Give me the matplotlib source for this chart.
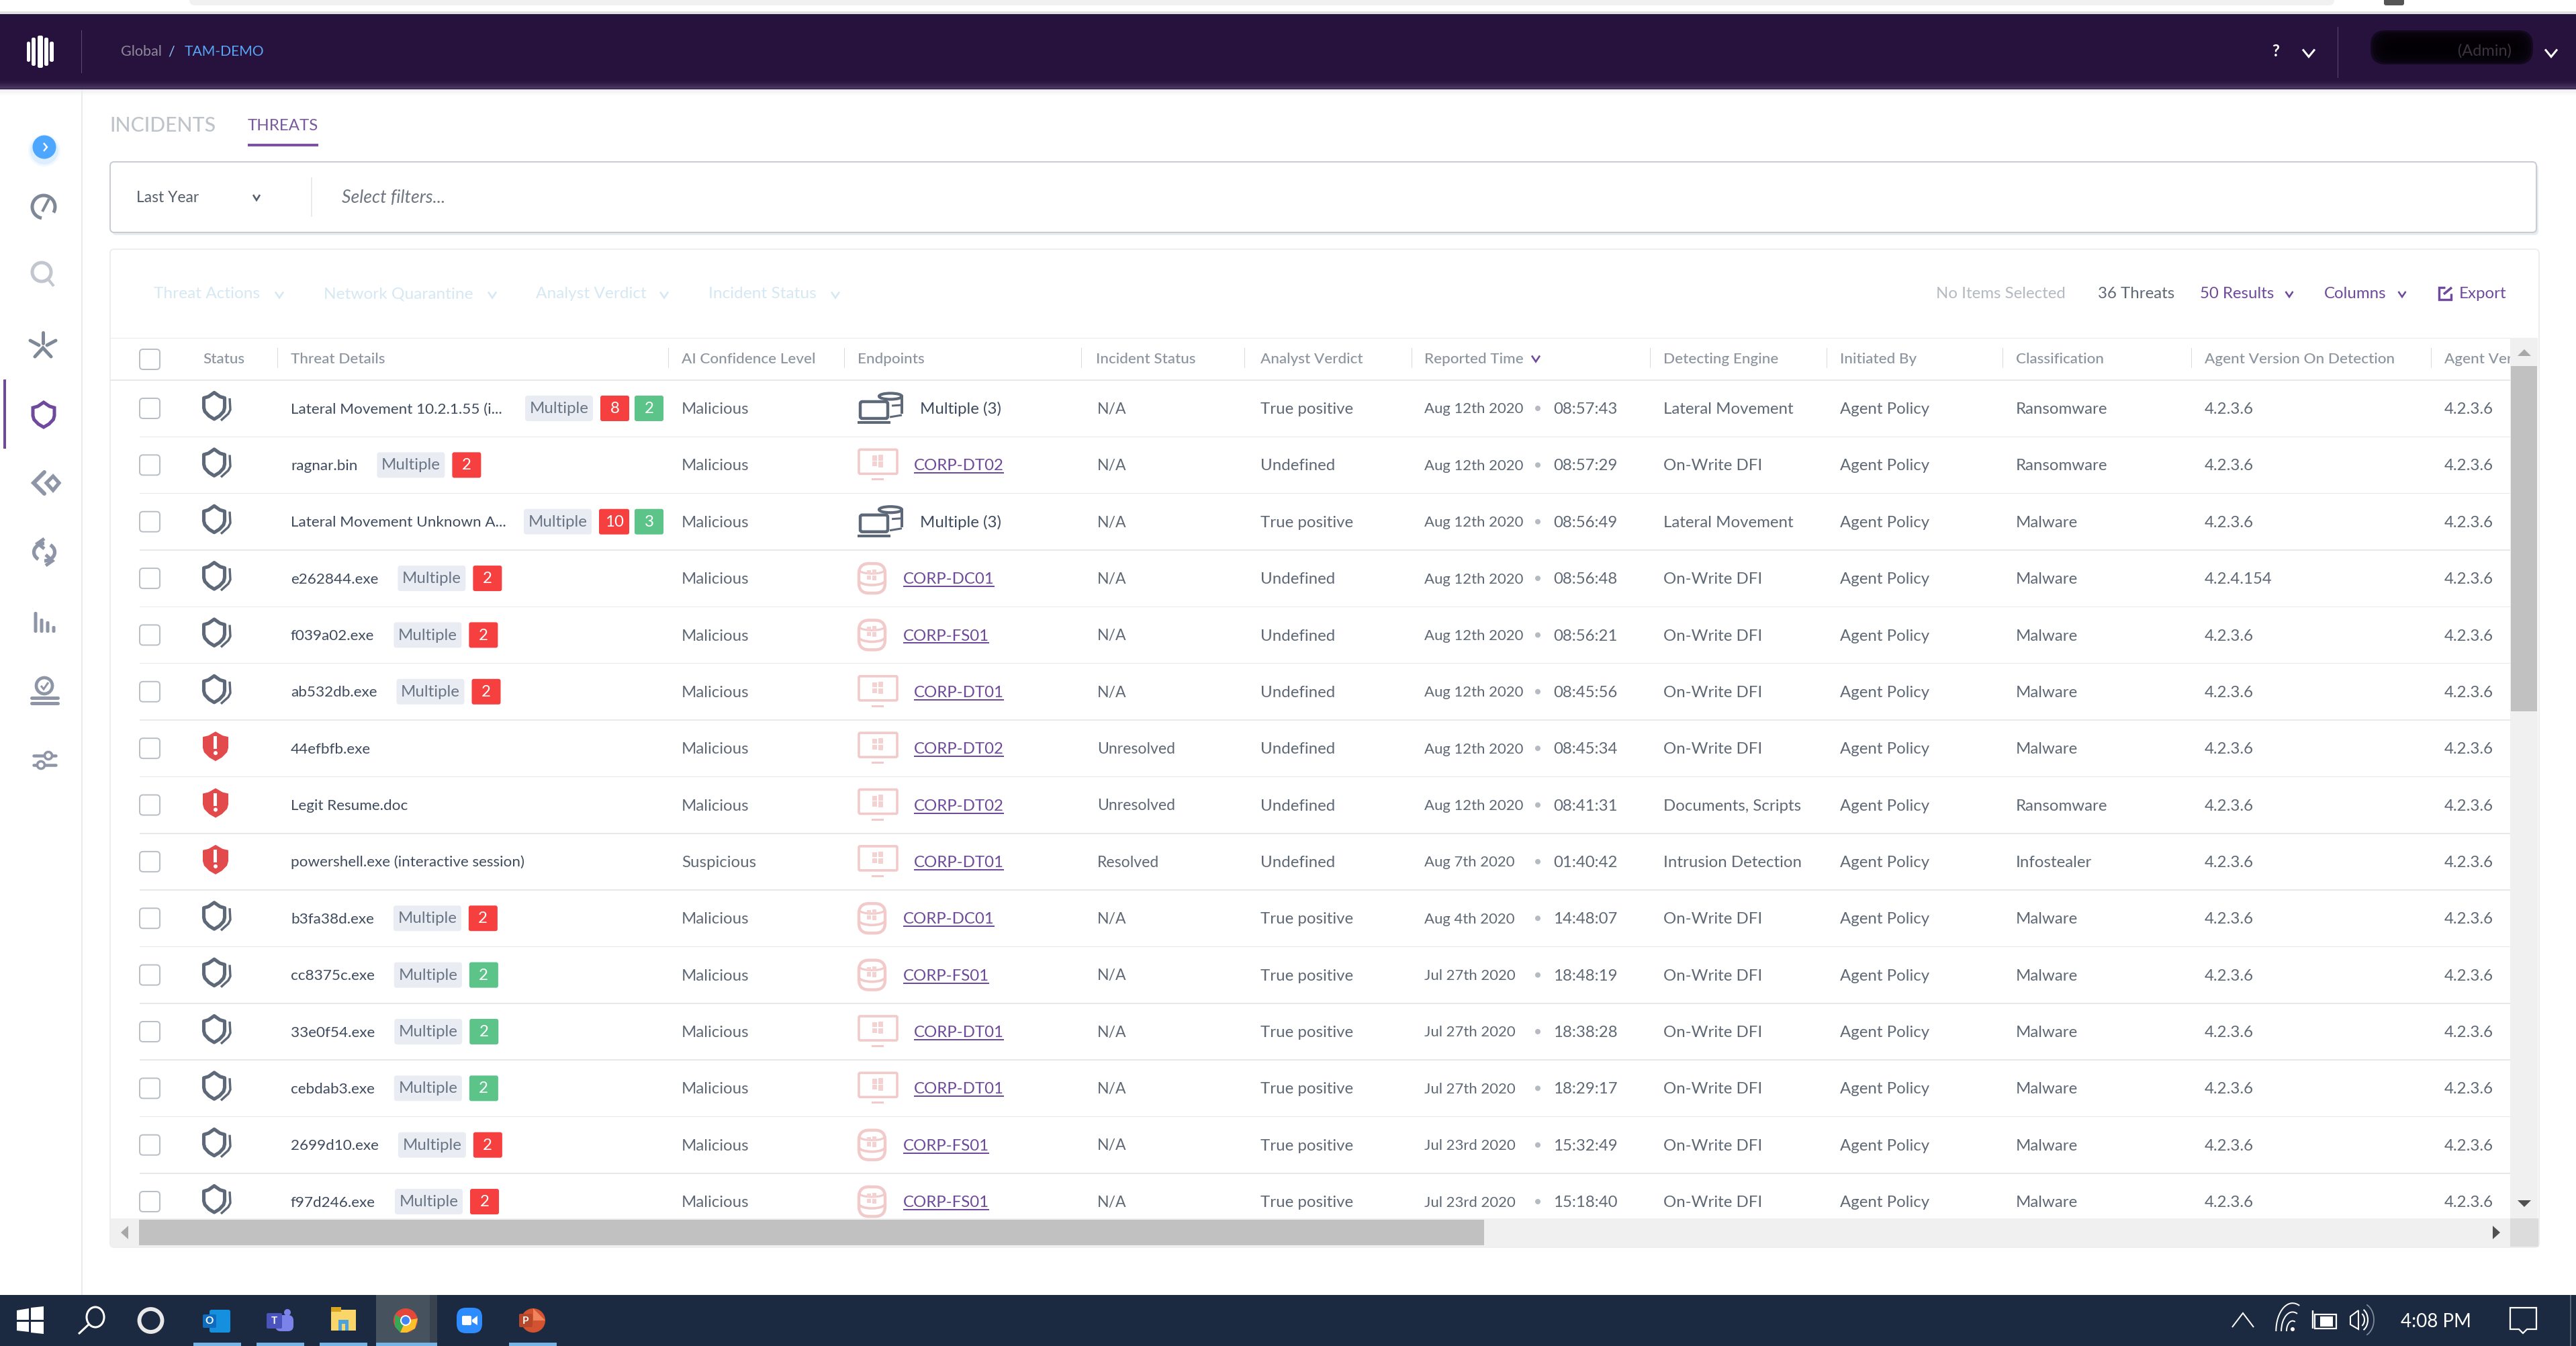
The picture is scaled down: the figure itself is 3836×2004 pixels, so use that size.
import matplotlib
matplotlib.use("Agg")
import matplotlib.pyplot as plt
import numpy as np
from matplotlib.patches import Rectangle, FancyBboxPatch, Circle, Ellipse, Polygon, Arc

plt.rcParams['font.family'] = ['Lato', 'DejaVu Sans']

# ---------- data ----------
threat_names = ["Lateral Movement 10.2.1.55 (i...", "ragnar.bin", "Lateral Movement Unknown A...", "e262844.exe",
                "f039a02.exe", "ab532db.exe", "44efbfb.exe", "Legit Resume.doc",
                "powershell.exe (interactive session)", "b3fa38d.exe", "cc8375c.exe", "33e0f54.exe",
                "cebdab3.exe", "2699d10.exe", "f97d246.exe"]
red_counts = [8, 2, 10, 2, 2, 2, 0, 0, 0, 2, 0, 0, 0, 2, 2]
green_counts = [2, 0, 3, 0, 0, 0, 0, 0, 0, 0, 2, 2, 2, 0, 0]
status_alert = [0, 0, 0, 0, 0, 0, 1, 1, 1, 0, 0, 0, 0, 0, 0]
confidence = ["Malicious"] * 8 + ["Suspicious"] + ["Malicious"] * 6
endpoints = ["Multiple (3)", "CORP-DT02", "Multiple (3)", "CORP-DC01", "CORP-FS01", "CORP-DT01", "CORP-DT02",
             "CORP-DT02", "CORP-DT01", "CORP-DC01", "CORP-FS01", "CORP-DT01", "CORP-DT01", "CORP-FS01", "CORP-FS01"]
incident_status = ["N/A"] * 6 + ["Unresolved", "Unresolved", "Resolved"] + ["N/A"] * 6
verdicts = ["True positive", "Undefined", "True positive", "Undefined", "Undefined", "Undefined", "Undefined",
            "Undefined", "Undefined", "True positive", "True positive", "True positive", "True positive",
            "True positive", "True positive"]
dates = ["Aug 12th 2020"] * 8 + ["Aug 7th 2020", "Aug 4th 2020", "Jul 27th 2020", "Jul 27th 2020", "Jul 27th 2020",
                                 "Jul 23rd 2020", "Jul 23rd 2020"]
times = ["08:57:43", "08:57:29", "08:56:49", "08:56:48", "08:56:21", "08:45:56", "08:45:34", "08:41:31", "01:40:42",
         "14:48:07", "18:48:19", "18:38:28", "18:29:17", "15:32:49", "15:18:40"]
engines = ["Lateral Movement", "On-Write DFI", "Lateral Movement", "On-Write DFI", "On-Write DFI", "On-Write DFI",
           "On-Write DFI", "Documents, Scripts", "Intrusion Detection", "On-Write DFI", "On-Write DFI",
           "On-Write DFI", "On-Write DFI", "On-Write DFI", "On-Write DFI"]
initiated = ["Agent Policy"] * 15
classes = ["Ransomware", "Ransomware", "Malware", "Malware", "Malware", "Malware", "Malware", "Ransomware",
           "Infostealer", "Malware", "Malware", "Malware", "Malware", "Malware", "Malware"]
version_detect = ["4.2.3.6", "4.2.3.6", "4.2.3.6", "4.2.4.154"] + ["4.2.3.6"] * 11
version_agent = ["4.2.3.6"] * 15
headers = ["Status", "Threat Details", "AI Confidence Level", "Endpoints", "Incident Status", "Analyst Verdict",
           "Reported Time", "Detecting Engine", "Initiated By", "Classification", "Agent Version On Detection",
           "Agent Ver"]
toolbar_left = ["Threat Actions", "Network Quarantine", "Analyst Verdict", "Incident Status"]

# ---------- canvas ----------
W, H = 3837, 2004
fig = plt.figure(figsize=(W / 100, H / 100), dpi=100, facecolor='white')
ax = fig.add_axes([0, 0, 1, 1])
ax.set_xlim(0, W)
ax.set_ylim(H, 0)
ax.axis('off')
rend = fig.canvas.get_renderer()

FS = 17.3
FS_NAME = 16.2
FS_DATE = 15.9
TXT = '#5f6976'
DARK = '#3f4b5e'
HEAD = '#8b949f'
PURPLE = '#6f4a9c'
SEP = '#e6e8eb'


def rect(x0, y0, x1, y1, c, z=1, **k):
    ax.add_patch(Rectangle((x0, y0), x1 - x0, y1 - y0, fc=c, ec='none', zorder=z, **k))


def rbox(x0, y0, x1, y1, fc, ec='none', r=4, lw=0, z=2):
    ax.add_patch(FancyBboxPatch((x0, y0), x1 - x0, y1 - y0, boxstyle=f"round,pad=0,rounding_size={r}",
                                fc=fc, ec=ec, lw=lw, zorder=z))


def txt(x, cy, s, c=TXT, fs=FS, ha='left', z=5, **k):
    return ax.text(x, cy + fs * 0.47, s, color=c, fontsize=fs, ha=ha, va='baseline', zorder=z, **k)


def line(xs, ys, c, px=2, z=3, **k):
    ax.plot(xs, ys, color=c, lw=px * 0.72, zorder=z, solid_capstyle=k.pop('cap', 'butt'),
            solid_joinstyle=k.pop('join', 'miter'), **k)


def chev(x, y, c, w=7, h=5, px=3):
    line([x - w, x, x + w], [y - h, y + h, y - h], c, px, z=6)


def winlogo(cx, cy, s, c, z=4):
    g = s * 0.1
    rect(cx - s, cy - s, cx - g, cy - g, c, z)
    rect(cx + g, cy - s * 1.15, cx + s, cy - g, c, z)
    rect(cx - s, cy + g, cx - g, cy + s, c, z)
    rect(cx + g, cy + g, cx + s, cy + s * 1.15, c, z)


def shield_pts(cx, cy, w, t, b):
    return [(cx, cy - t), (cx + w * 0.55, cy - t + 6), (cx + w, cy - t + 8), (cx + w, cy + b * 0.1),
            (cx + w * 0.9, cy + b * 0.4), (cx + w * 0.5, cy + b * 0.75), (cx, cy + b), (cx - w * 0.5, cy + b * 0.75),
            (cx - w * 0.9, cy + b * 0.4), (cx - w, cy + b * 0.1), (cx - w, cy - t + 8), (cx - w * 0.55, cy - t + 6)]


def gray_shield(cy):
    ax.add_patch(Polygon(shield_pts(319, cy - 3, 15.5, 20.5, 19), closed=True, fc='none', ec='#5d6878', lw=3.7, zorder=4,
                         joinstyle='round'))
    line([342, 343, 340, 329], [cy - 15, cy + 2, cy + 8, cy + 18], '#5d6878', 3.4, z=4)


def red_shield(cy):
    ax.add_patch(Polygon(shield_pts(321, cy - 3, 19, 22, 22), closed=True, fc='#e24a4b', ec='none', zorder=4))
    rect(318.5, cy - 18, 323.5, cy + 1, 'white', 5)
    ax.add_patch(Circle((321, cy + 7), 3, fc='white', ec='none', zorder=5))


def laptop(cy):
    c = '#5d6878'
    ax.add_patch(Ellipse((1326, cy - 18), 34, 9, fc='none', ec=c, lw=3, zorder=4))
    line([1343, 1343], [cy - 18, cy + 8], c, 4, z=4)
    line([1343, 1325], [cy + 10, cy + 13], c, 3, z=4)
    line([1343, 1328], [cy - 5, cy - 4], c, 3, z=4)
    rbox(1281, cy - 10, 1322, cy + 15, 'white', c, r=3, lw=3.2, z=4.5)
    rect(1277, cy + 19, 1326, cy + 23, c, 5)


def desktop(cy):
    c = '#f2caca'
    rbox(1279, cy - 23, 1336, cy + 13, 'white', c, r=2, lw=2.6, z=4)
    rect(1298, cy + 20, 1316, cy + 23, c, 4)
    winlogo(1307, cy - 6, 8, '#f4d2d2', 5)


def dbicon(cy):
    c = '#f2caca'
    rbox(1279, cy - 22, 1318, cy + 22, 'white', c, r=15, lw=3.2, z=4)
    ax.add_patch(Arc((1298.5, cy + 3), 39, 14, theta1=0, theta2=180, ec=c, lw=2.6, zorder=5))
    ax.add_patch(Arc((1298.5, cy - 13), 39, 12, theta1=0, theta2=180, ec=c, lw=2.2, zorder=5))
    winlogo(1298, cy - 5, 7, '#f4d2d2', 5.5)


# ---------- top strip and header bar ----------
rbox(282, -20, 3476, 8, '#f1f1f1', r=8, z=1)
rbox(3550, -10, 3580, 8, '#555555', r=3, z=1)
rect(0, 17, W, 21, '#e2e2e2', 1)
rect(0, 21, W, 133, '#27123d', 2)
grad = ['#2a1540', '#2e1944', '#331f4a', '#3a2651', '#422f59', '#4a3860']
for i, col in enumerate(grad):
    rect(0, 120 + i * 2, W, 122 + i * 2, col, 2.5)
for j in range(3):
    rect(0, 133 + j * 3, W, 136 + j * 3, ['#efeff1', '#f6f6f7', '#fbfbfb'][j], 1)

for x0, x1, h in [(40, 45, 15), (47, 53, 21), (56, 64, 24), (66, 72, 21), (74, 80, 15)]:
    rbox(x0, 77 - h, x1, 77 + h, 'white', r=2.4, z=3)
rect(121, 45, 122, 109, '#5b4b6e', 3)
txt(180, 76, "Global", c='#8f8a99', fs=15.5)
txt(250, 76, "/", c='#8fc0f0', fs=15.5)
txt(275, 76, "TAM-DEMO", c='#58a6f5', fs=15.2)
txt(3389, 76, "?", c='white', fs=17, ha='center', weight='bold')
chev(3438, 79, 'white', w=9, h=5.5, px=3)
rect(3481, 40, 3482, 116, '#5b4b6e', 3)
for g, a in [(26, .10), (22, .14), (18, .18), (14, .24), (10, .3), (6, .4), (3, .5)]:
    rbox(3527 + g, 43 + g * .7, 3775 - g, 98 - g * .7, '#000000', r=22, z=3)
    ax.patches[-1].set_alpha(a)
txt(3660, 75, "(Admin)", c='#3a3440', fs=17)
chev(3799, 79, 'white', w=9, h=5.5, px=3)

# ---------- sidebar ----------
rect(121, 133, 123, 1928, '#eaebee', 1)
for r_, a in [(24, .07), (21, .12)]:
    ax.add_patch(Circle((66, 224), r_, fc='#4da6ff', ec='none', alpha=a, zorder=2))
ax.add_patch(Circle((66, 219), 17.5, fc='#4da6ff', ec='none', zorder=3))
line([65, 70, 65], [213, 219, 225], 'white', 2.4, z=4)
ic = '#8d95a6'
ax.add_patch(Arc((65, 308), 34, 34, theta1=100, theta2=30, ec='#7f8897', lw=3.6, zorder=3))
line([63, 73], [315, 296], '#7f8897', 4, z=3)
ax.add_patch(Circle((62, 405), 14, fc='none', ec='#c1c6cf', lw=3.6, zorder=3))
line([72, 80], [416, 426], '#c1c6cf', 4, z=3)
line([64, 64], [495, 511], '#7f8897', 5, z=3, cap='round')
line([45, 58], [507, 514], '#7f8897', 5, z=3, cap='round')
line([83, 70], [507, 514], '#7f8897', 5, z=3, cap='round')
line([52, 64, 76], [531, 518, 531], '#7f8897', 5, z=3, cap='round')
ax.add_patch(Polygon(shield_pts(65, 617, 16, 18, 19), closed=True, fc='none', ec=PURPLE, lw=3.6, zorder=3))
rect(5, 565, 9, 668, '#6f4a9c', 3)
line([66, 50, 66], [703, 719, 735], ic, 6, z=3, cap='round')
ax.add_patch(Polygon([(79, 709), (88, 719), (79, 730), (69, 719)], closed=True, fc='none', ec=ic, lw=3.8, zorder=3))
ax.add_patch(Arc((66, 822), 31, 26, theta1=310, theta2=90, ec=ic, lw=3.8, zorder=3))
ax.add_patch(Arc((66, 822), 31, 26, theta1=130, theta2=270, ec=ic, lw=3.8, zorder=3))
line([66, 56, 66], [802, 809, 817], ic, 5, z=3)
line([68, 78, 68], [826, 835, 842], ic, 5, z=3)
for x_, top in [(53, 911), (62, 921), (71, 925), (80, 932)]:
    rbox(x_ - 2.5, top, x_ + 2.5, 942, ic, r=2, z=3)
ax.add_patch(Circle((66, 1021), 12, fc='none', ec=ic, lw=3.4, zorder=3))
line([61, 65, 72], [1021, 1026, 1016], ic, 3, z=3)
for y_ in (1039, 1047):
    line([47, 86], [y_, y_], ic, 5, z=3, cap='round')
for y_, xc in ((1125, 72), (1139, 61)):
    line([50, 83], [y_, y_], ic, 4.5, z=3, cap='round')
    ax.add_patch(Circle((xc, y_), 5.5, fc='white', ec=ic, lw=2.6, zorder=4))

# ---------- tabs and filter box ----------
txt(163, 186, "INCIDENTS", c='#bfc4cb', fs=21.8, weight='medium')
txt(369, 186, "THREATS", c='#7a5aa0', fs=17.3)
rect(369, 214, 474, 218, '#7b52a3', 3)
rbox(167, 245, 3780, 350, '#e9ecef', r=6, z=1)
rbox(164, 241, 3777, 346, 'white', '#c8ccd2', r=6, lw=1.4, z=2)
txt(203, 293, "Last Year", c='#56606c', fs=16.5)
chev(382, 294, '#56606c', w=5, h=4, px=2.6)
rect(463, 264, 465, 323, '#e8eaed', 3)
txt(509, 293, "Select filters...", c='#6e7681', style='italic', fs=19.2)

# ---------- table card ----------
rbox(164, 371, 3781, 1857, 'white', '#eceef0', r=6, lw=1.4, z=1)
for label, x_, cx_ in zip(toolbar_left, (229, 482, 798, 1055), (416, 733, 989, 1244)):
    txt(x_, 436, label, c='#d6e8f3', fs=17.6)
    chev(cx_, 439, '#d6e8f3', w=6, h=4.5, px=2.6)
txt(2883, 436, "No Items Selected", c='#b4bac2')
txt(3124, 436, "36 Threats", c='#5f6976')
txt(3276, 436, "50 Results", c=PURPLE)
chev(3409, 438, PURPLE, w=5.5, h=4, px=2.6)
txt(3461, 436, "Columns", c=PURPLE)
chev(3577, 438, PURPLE, w=5.5, h=4, px=2.6)
line([3641, 3632, 3632, 3650, 3650], [428, 428, 446, 446, 437], PURPLE, 3.4, z=5)
line([3639, 3651], [438, 428], PURPLE, 3.6, z=5)
txt(3662, 436, "Export", c=PURPLE)

# table header
rect(164, 503, 3738, 504, '#e6e8eb', 2)
rect(164, 565, 3738, 567, '#e6e8eb', 2)
rbox(208, 520, 238, 550, 'white', '#b9bec5', r=5, lw=1.4, z=3)
head_x = [302, 433, 1015, 1277, 1632, 1877, 2121, 2477, 2740, 3002, 3283, 3640]
sep_x = [413, 995, 1257, 1610, 1853, 2102, 2457, 2720, 2982, 3263, 3620]
for x_, s in zip(head_x, headers):
    txt(x_, 533, s, c=HEAD, weight='medium', fs=FS_NAME)
for x_ in sep_x:
    rect(x_, 518, x_ + 1.5, 548, '#d9dcdf', 3)
chev(2287, 534, PURPLE, w=6, h=4.5, px=2.6)

# ---------- rows ----------
ROW0, ROWH = 608, 84.36
CHIP_W, CHIP_GAP, BADGE_GAP, RIGHT_EDGE = 101, 11, 8, 988
for i, name in enumerate(threat_names):
    cy = ROW0 + i * ROWH
    if i < len(threat_names) - 1:
        rect(208, cy + 41.5, 3738, cy + 43, SEP, 2)
    rbox(208, cy - 15, 238, cy + 15, 'white', '#b9bec5', r=5, lw=1.4, z=3)
    if status_alert[i]:
        red_shield(cy)
    else:
        gray_shield(cy)
    t = txt(433, cy, name, c=DARK, fs=FS_NAME)
    if red_counts[i] or green_counts[i]:
        wr = 45 if red_counts[i] > 9 else 43
        if name.endswith('...'):
            x = RIGHT_EDGE - (CHIP_W + CHIP_GAP + wr + BADGE_GAP + 43)
        else:
            x = t.get_window_extent(rend).x1 + 29
        rbox(x, cy - 19, x + CHIP_W, cy + 19, '#e9edf3', r=4, z=3)
        txt(x + CHIP_W / 2, cy - 1, "Multiple", c='#6a7585', ha='center')
        x += CHIP_W + CHIP_GAP
        for count, col in ((red_counts[i], '#f5403f'), (green_counts[i], '#5cc389')):
            if count:
                wd = 45 if count > 9 else 43
                rbox(x, cy - 19, x + wd, cy + 19, col, r=3, z=3)
                txt(x + wd / 2, cy - 1, str(count), c='white', ha='center')
                x += wd + BADGE_GAP
    txt(1015, cy, confidence[i])
    ep = endpoints[i]
    if ep.startswith('Multiple'):
        laptop(cy)
        txt(1370, cy, ep, c=DARK)
    else:
        is_desk = '-DT' in ep
        (desktop if is_desk else dbicon)(cy)
        x0 = 1361 if is_desk else 1345
        t = txt(x0, cy, ep, c=PURPLE)
        line([x0, t.get_window_extent(rend).x1], [cy + 12, cy + 12], PURPLE, 2, z=5)
    txt(1634, cy, incident_status[i], fs=16.6)
    txt(1877, cy, verdicts[i])
    txt(2121, cy, dates[i], fs=FS_DATE)
    ax.add_patch(Circle((2290, cy), 4, fc='#b5bac3', ec='none', zorder=4))
    txt(2313, cy, times[i])
    txt(2477, cy, engines[i])
    txt(2740, cy, initiated[i])
    txt(3002, cy, classes[i])
    txt(3283, cy, version_detect[i])
    txt(3640, cy, version_agent[i])

# ---------- scrollbars ----------
rect(3738, 503, 3779, 1814, '#f0f0f0', 6)
rect(3739, 545, 3778, 1059, '#c1c1c1', 6.5)
ax.add_patch(Polygon([(3749, 530), (3759, 520), (3769, 530)], closed=True, fc='#a8a8a8', ec='none', zorder=7))
ax.add_patch(Polygon([(3749, 1787), (3769, 1787), (3759, 1797)], closed=True, fc='#505050', ec='none', zorder=7))
rect(165, 1814, 3738, 1856, '#f0f0f0', 6)
rect(207, 1816, 2210, 1854, '#c1c1c1', 6.5)
rect(3738, 1814, 3780, 1856, '#dcdcdc', 6)
ax.add_patch(Polygon([(191, 1825), (191, 1845), (180, 1835)], closed=True, fc='#a8a8a8', ec='none', zorder=7))
ax.add_patch(Polygon([(3712, 1825), (3712, 1845), (3723, 1835)], closed=True, fc='#505050', ec='none', zorder=7))

# ---------- taskbar ----------
rect(0, 1928, W, H, '#1b2a41', 8)
rect(560, 1928, 640, H, '#46535f', 8.2)
rect(640, 1928, 651, H, '#39434f', 8.2)
for x0, x1 in [(288, 359), (382, 453), (476, 547), (560, 651), (758, 829)]:
    rect(x0, 1999, x1, H, '#74b4e6', 8.3)
ax.add_patch(Polygon([(25, 1951), (43, 1948), (43, 1965), (25, 1965)], closed=True, fc='white', ec='none', zorder=9))
ax.add_patch(Polygon([(46, 1947), (65, 1945), (65, 1965), (46, 1965)], closed=True, fc='white', ec='none', zorder=9))
ax.add_patch(Polygon([(25, 1968), (43, 1968), (43, 1983), (25, 1981)], closed=True, fc='white', ec='none', zorder=9))
ax.add_patch(Polygon([(46, 1968), (65, 1968), (65, 1986), (46, 1984)], closed=True, fc='white', ec='none', zorder=9))
ax.add_patch(Ellipse((142, 1961), 26, 30, fc='none', ec='white', lw=2.2, zorder=9))
line([132, 117], [1972, 1986], 'white', 3, z=9)
ax.add_patch(Circle((224.5, 1966), 17, fc='none', ec='#e8e8e8', lw=4.2, zorder=9))
rbox(312, 1950, 343, 1984, '#1490df', r=3, z=9)
rbox(302, 1957, 322, 1977, '#0f6cbd', r=2, z=9.1)
txt(312, 1966, "O", c='white', fs=11, ha='center', z=9.2, weight='bold')
ax.add_patch(Circle((428, 1954), 5, fc='#7b83eb', ec='none', zorder=9))
rbox(410, 1958, 437, 1982, '#7b83eb', r=8, z=9)
rbox(397, 1955, 420, 1978, '#4b53bc', r=2, z=9.1)
txt(408, 1966, "T", c='white', fs=11, ha='center', z=9.2, weight='bold')
rect(493, 1950, 530, 1981, '#f9d56a', 9)
rect(493, 1946, 508, 1953, '#d9a520', 9.1)
rect(504, 1965, 519, 1981, '#4aa3df', 9.2)
rect(509, 1971, 514, 1981, '#f9d56a', 9.3)
ax.add_patch(Circle((604, 1966), 18, fc='#e5483b', ec='none', zorder=9))
ax.add_patch(Polygon([(588, 1957), (604, 1966), (596, 1984), (588, 1975)], closed=True, fc='#3aa757', ec='none', zorder=9.1))
ax.add_patch(Polygon([(604, 1966), (622, 1963), (618, 1978), (606, 1984), (596, 1984)], closed=True, fc='#fbc02d', ec='none', zorder=9.1))
ax.add_patch(Circle((604, 1966), 8, fc='white', ec='none', zorder=9.2))
ax.add_patch(Circle((604, 1966), 6, fc='#4285f4', ec='none', zorder=9.3))
rbox(680, 1947, 718, 1985, '#2d8cff', r=14, z=9)
rbox(688, 1959, 702, 1973, 'white', r=2, z=9.1)
ax.add_patch(Polygon([(703, 1965), (711, 1959), (711, 1973), (703, 1968)], closed=True, fc='white', ec='none', zorder=9.1))
ax.add_patch(Circle((794, 1966), 18, fc='#d35230', ec='none', zorder=9))
ax.add_patch(Polygon([(794, 1948), (812, 1966), (794, 1966)], closed=True, fc='#f0845c', ec='none', zorder=9.1))
rbox(773, 1956, 793, 1976, '#b7472a', r=2, z=9.2)
txt(783, 1966, "P", c='white', fs=11, ha='center', z=9.3, weight='bold')
line([3324, 3340, 3356], [1976, 1955, 1976], 'white', 2, z=9)
for r_, a in [(38, 1), (26, 1), (14, 1)]:
    ax.add_patch(Arc((3414, 1982), r_ * 1.3, r_ * 2.2, theta1=180, theta2=285, ec='white', lw=1.4, zorder=9))
ax.add_patch(Circle((3414, 1979), 3, fc='white', ec='none', zorder=9))
ax.add_patch(Rectangle((3447, 1957), 32, 21, fc='none', ec='white', lw=1.6, zorder=9))
rect(3455, 1960, 3474, 1975, 'white', 9.1)
line([3444, 3444], [1951, 1978], 'white', 2.4, z=9.2)
ax.add_patch(Polygon([(3500, 1960), (3512, 1951), (3512, 1979), (3500, 1972)], closed=True, fc='none', ec='white', lw=1.5, zorder=9))
ax.add_patch(Arc((3514, 1965), 14, 20, theta1=-70, theta2=70, ec='white', lw=1.5, zorder=9))
ax.add_patch(Arc((3514, 1965), 24, 34, theta1=-70, theta2=70, ec='white', lw=1.5, zorder=9))
ax.add_patch(Arc((3516, 1965), 38, 50, theta1=-70, theta2=70, ec='#7f8a99', lw=1.3, zorder=9))
txt(3575, 1967, "4:08 PM", c='white', fs=20, z=9)
ax.add_patch(Polygon([(3738, 1947), (3777, 1947), (3777, 1979), (3763, 1979), (3757, 1985), (3751, 1979), (3738, 1979)],
                     closed=True, fc='none', ec='white', lw=1.6, zorder=9))
rect(3827, 1928, 3829, H, '#5a6675', 9)

fig.savefig('out.png', dpi=100, facecolor='white')
